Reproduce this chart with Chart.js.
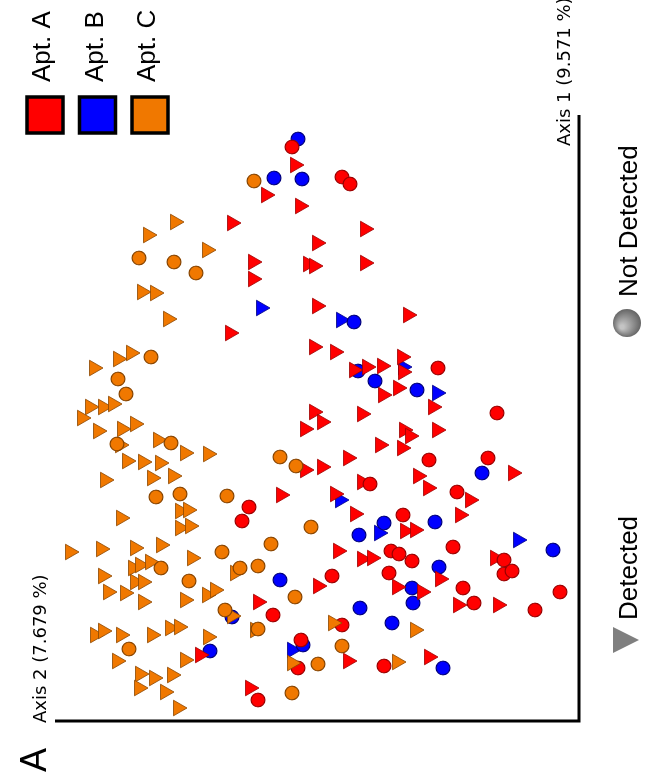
<!DOCTYPE html>
<html lang="en">
<head>
  <meta charset="UTF-8">
  <title>PCoA - Apt. A / B / C</title>
  <style>
    html, body { margin: 0; padding: 0; background: #fff; overflow: hidden; }
    /* figure is laid out landscape and turned a quarter turn, like the original */
    #wrap {
      position: absolute; left: 0; top: 0;
      width: 782px; height: 661px;
      transform-origin: 0 0;
      transform: translateY(782px) rotate(-90deg);
    }
  </style>
  <script src="https://cdn.jsdelivr.net/npm/chart.js"></script>
</head>
<body>
<div id="wrap"><canvas id="pcoa" width="782" height="661"></canvas></div>

<script>
  // [Axis 1, Axis 2] (arbitrary units)
  const aptA_notDetected = [
    [57.4,28.7],[54.4,23.7],[53.7,22.9],[35.3,14.1],[30.8,8.2],[23.7,20.9],[21.4,33.0],[20.0,33.7],
    [20.6,17.6],[17.0,18.8],[16.7,18.0],[14.5,24.7],[14.8,19.0],[10.6,30.6],[9.6,23.7],[8.1,27.8],
    [5.3,28.1],[5.5,19.5],[2.1,32.1],[26.1,15.0],[26.3,9.1],[22.9,12.2],[17.4,12.6],[16.0,16.7],
    [16.1,7.5],[14.7,7.5],[15.0,6.7],[13.3,11.6],[11.8,10.5],[11.1,4.4],[12.9,1.9]
  ];
  const aptA_detected = [
    [55.6,28.4],[52.6,31.3],[51.5,27.9],[49.8,34.7],[49.2,21.4],[47.8,26.2],[45.9,32.6],[45.7,27.1],
    [45.5,26.5],[45.8,21.4],[44.2,32.6],[41.5,26.2],[40.6,17.1],[38.8,34.9],[37.4,26.5],[36.9,24.4],
    [35.1,22.5],[35.4,21.2],[35.5,19.7],[36.4,17.7],[34.9,17.6],[32.6,19.6],[33.3,18.1],[30.9,26.5],
    [30.7,21.7],[31.4,14.6],[29.9,25.7],[29.2,27.4],[29.1,17.5],[28.5,16.9],[27.3,17.7],[29.1,14.2],
    [27.6,19.9],[26.3,23.1],[25.4,25.7],[25.1,27.4],[23.9,21.7],[22.6,29.8],[22.7,24.4],[20.7,22.4],
    [19.0,17.4],[19.1,16.4],[24.5,16.1],[23.3,15.1],[22.1,10.9],[24.8,6.6],[20.6,11.9],[17.0,24.1],
    [16.2,21.7],[16.3,20.7],[13.5,26.1],[13.4,18.2],[11.9,32.1],[14.2,13.9],[12.9,15.7],[11.6,12.1],
    [11.6,8.1],[16.3,8.4],[6.0,23.1],[3.3,32.9],[6.4,15.0],[6.6,37.9]
  ];
  const aptB_notDetected = [
    [58.2,28.1],[54.3,30.5],[54.2,27.7],[39.9,22.5],[35.0,22.1],[34.0,20.4],[33.1,16.2],[24.8,9.7],
    [19.9,14.4],[19.8,19.5],[18.6,22.0],[17.1,2.6],[15.4,14.0],[13.3,16.7],[11.8,16.6],[11.3,21.9],
    [14.1,29.9],[9.8,18.7],[7.6,27.6],[10.4,34.7],[7.0,36.9],[5.3,13.6]
  ];
  const aptB_detected = [
    [41.3,31.8],[40.1,23.8],[35.4,17.6],[32.8,14.2],[22.1,23.9],[18.8,20.0],[18.1,6.1],[7.1,28.7]
  ];
  const aptC_notDetected = [
    [54.0,32.5],[46.3,44.0],[45.9,40.5],[44.8,38.3],[36.4,42.8],[34.2,46.1],[32.7,45.3],[27.7,46.2],
    [27.8,40.8],[22.4,42.3],[22.7,39.9],[22.5,35.2],[16.9,35.7],[15.3,41.8],[14.0,39.0],[11.1,35.4],
    [7.2,45.0],[26.4,29.9],[25.5,28.3],[19.4,26.8],[17.7,30.8],[15.3,33.9],[15.5,32.1],[12.4,28.4],
    [9.2,32.1],[7.5,23.7],[5.7,26.1],[2.8,28.7]
  ];
  const aptC_detected = [
    [49.9,40.4],[48.6,43.1],[47.1,37.2],[42.9,43.7],[42.8,42.4],[40.2,41.1],[36.8,44.8],[36.2,46.1],
    [35.3,48.5],[31.4,48.9],[31.4,47.6],[31.7,46.6],[30.3,49.7],[29.0,48.1],[29.2,45.7],[29.7,44.4],
    [27.6,45.9],[28.1,42.1],[26.8,39.4],[26.7,37.1],[26.0,45.2],[25.9,43.6],[25.8,41.9],[24.1,47.4],
    [24.3,42.7],[24.5,40.6],[21.0,39.9],[21.1,39.1],[20.3,45.8],[19.3,39.9],[19.5,38.9],[16.9,50.9],
    [17.2,47.8],[17.3,44.4],[17.6,41.8],[16.3,38.7],[15.3,44.6],[15.6,43.9],[15.9,42.9],[14.5,47.6],
    [13.9,44.4],[13.9,43.6],[12.9,47.1],[12.8,45.4],[11.9,43.6],[12.1,39.4],[12.6,37.2],[13.1,36.4],
    [14.8,34.4],[8.6,48.4],[9.0,47.6],[8.6,45.8],[8.6,42.7],[9.3,40.9],[9.4,40.0],[8.4,37.1],
    [6.0,46.2],[6.1,39.4],[4.7,43.9],[4.3,42.5],[4.6,40.7],[3.3,44.0],[2.9,41.4],[1.3,40.1],
    [9.8,24.6],[9.1,16.4],[5.9,18.2],[5.8,28.7],[9.1,32.4],[10.5,34.7]
  ];

  const groups = ['Apt. A', 'Apt. B', 'Apt. C'];
  const statusLabels = ['Not Detected', 'Detected'];
  const axisLabels = ['Axis 1 (9.571 %)', 'Axis 2 (7.679 %)'];

  const fillCol = { 'Apt. A': '#ff0000', 'Apt. B': '#0000ff', 'Apt. C': '#f07800' };
  const edgeCol = { 'Apt. A': '#9c0000', 'Apt. B': '#000080', 'Apt. C': '#8a4600' };

  const toPts = arr => arr.map(p => ({ x: p[0], y: p[1] }));

  function circles(group, arr, order) {
    return {
      label: group + ' ' + statusLabels[0], data: toPts(arr), order: order, clip: false,
      pointStyle: 'circle', pointRadius: 6.8, borderWidth: 1.2,
      backgroundColor: fillCol[group], borderColor: edgeCol[group]
    };
  }
  function triangles(group, arr, order) {
    return {
      label: group + ' ' + statusLabels[1], data: toPts(arr), order: order, clip: false,
      pointStyle: 'triangle', rotation: 180, pointRadius: 9, borderWidth: 0.8,
      backgroundColor: fillCol[group], borderColor: edgeCol[group]
    };
  }

  // blue underneath, red in the middle, orange on top
  const datasets = [
    circles('Apt. C', aptC_notDetected, 1),
    triangles('Apt. C', aptC_detected, 2),
    circles('Apt. A', aptA_notDetected, 3),
    triangles('Apt. A', aptA_detected, 4),
    circles('Apt. B', aptB_notDetected, 5),
    triangles('Apt. B', aptB_detected, 6)
  ];

  const decor = {
    id: 'decor',
    afterDraw(chart) {
      const c = chart.ctx;
      const a = chart.chartArea;
      c.save();

      // L-shaped axes
      c.strokeStyle = '#000';
      c.lineWidth = 3;
      c.beginPath();
      c.moveTo(a.left, a.top);
      c.lineTo(a.left, a.bottom);
      c.lineTo(a.right, a.bottom);
      c.stroke();

      c.fillStyle = '#000';
      c.textAlign = 'left';
      c.textBaseline = 'alphabetic';
      c.font = '18px "DejaVu Sans"';
      c.fillText(axisLabels[0], 636, 570);
      c.fillText(axisLabels[1], 59, 46);

      c.font = '36px "Liberation Sans"';
      c.fillText('A', 10, 46);

      // group legend
      c.font = '26px "Liberation Sans"';
      groups.forEach((g, i) => {
        const y0 = 27 + i * 52.5;
        c.fillStyle = fillCol[g];
        c.fillRect(649, y0, 36, 36);
        c.lineWidth = 3.5;
        c.strokeStyle = '#000';
        c.strokeRect(649, y0, 36, 36);
        c.fillStyle = '#000';
        c.fillText(g, 700, y0 + 23);
      });

      // shape legend
      const grad = c.createRadialGradient(455, 622, 2, 459, 627, 15);
      grad.addColorStop(0, '#c4c4c4');
      grad.addColorStop(1, '#5e5e5e');
      c.fillStyle = grad;
      c.beginPath();
      c.arc(459, 627, 14, 0, Math.PI * 2);
      c.fill();
      c.fillStyle = '#000';
      c.fillText(statusLabels[0], 485, 637);

      c.fillStyle = '#7f7f7f';
      c.beginPath();
      c.moveTo(129, 613);
      c.lineTo(155, 613);
      c.lineTo(142, 639);
      c.closePath();
      c.fill();
      c.fillStyle = '#000';
      c.fillText(statusLabels[1], 162, 637);

      c.restore();
    }
  };

  const ctx = document.getElementById('pcoa').getContext('2d');
  new Chart(ctx, {
    type: 'scatter',
    data: { datasets: datasets },
    options: {
      responsive: false,
      animation: false,
      layout: { padding: { left: 61, right: 115, top: 55, bottom: 82 } },
      scales: {
        x: { display: false, min: 0, max: 60.6 },
        y: { display: false, min: 0, max: 52.4 }
      },
      plugins: {
        legend: { display: false },
        tooltip: { enabled: false }
      }
    },
    plugins: [decor]
  });
</script>
</body>
</html>
